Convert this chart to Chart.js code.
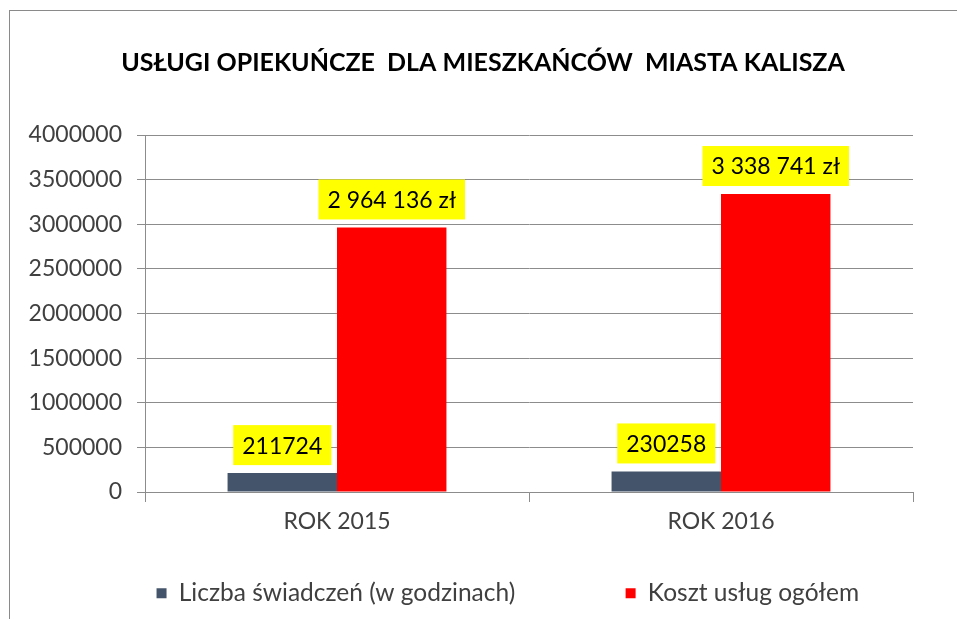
<!DOCTYPE html>
<html lang="pl">
<head>
<meta charset="utf-8">
<title>Usługi opiekuńcze dla mieszkańców miasta Kalisza</title>
<script src="https://cdn.jsdelivr.net/npm/chart.js@4.4.1/dist/chart.umd.min.js"></script>
<style>
  html, body { margin: 0; padding: 0; background: #fff; overflow: hidden; }
  #frame { position: absolute; left: 9px; top: 10px; width: 2000px; height: 2000px; border: 1px solid #8a8a8a; }
  #wrap { position: absolute; left: 0; top: 0; width: 957px; height: 619px; }
</style>
</head>
<body>
<div id="frame"></div>
<div id="wrap"><canvas id="chart"></canvas></div>
<script>
// Data
const years = ['ROK 2015', 'ROK 2016'];
const serviceHours = [211724, 230258];
const serviceCost = [2964136, 3338741];
const seriesNames = ['Liczba świadczeń (w godzinach)', 'Koszt usług ogółem'];
const seriesColors = ['#44546A', '#FF0000'];
const yTicks = [0, 500000, 1000000, 1500000, 2000000, 2500000, 3000000, 3500000, 4000000];

const FONT = 'Lato, "Open Sans", sans-serif';

// 2964136 -> "2 964 136 zł"
function formatZl(v) {
    return String(v).replace(/\B(?=(\d{3})+(?!\d))/g, ' ') + ' zł';
}

const labelFormats = [v => String(v), formatZl];

// Yellow value boxes above the bars
const valueLabels = {
    id: 'valueLabels',
    afterDatasetsDraw(chart) {
        const ctx = chart.ctx;
        ctx.save();
        ctx.font = '23px ' + FONT;
        ctx.textAlign = 'center';
        ctx.textBaseline = 'middle';
        chart.data.datasets.forEach((ds, i) => {
            chart.getDatasetMeta(i).data.forEach((bar, j) => {
                const text = labelFormats[i](ds.data[j]);
                const w = ctx.measureText(text).width + 18;
                const h = 40;
                const bottom = bar.y - 8;
                ctx.fillStyle = '#FFFF00';
                ctx.fillRect(bar.x - w / 2, bottom - h, w, h);
                ctx.fillStyle = '#000000';
                ctx.fillText(text, bar.x, bottom - h / 2 + 1);
            });
        });
        ctx.restore();
    }
};

// extra room after each legend entry (gap between items, space at the right end)
const legendGap = [' '.repeat(16), ' '.repeat(14)];

new Chart(document.getElementById('chart'), {
    type: 'bar',
    data: {
        labels: years,
        datasets: [
            { label: seriesNames[0], data: serviceHours, backgroundColor: seriesColors[0] },
            { label: seriesNames[1], data: serviceCost, backgroundColor: seriesColors[1] }
        ]
    },
    options: {
        responsive: true,
        maintainAspectRatio: false,
        animation: false,
        categoryPercentage: 0.57,
        barPercentage: 1,
        layout: { padding: { left: 9, right: 0, top: 0, bottom: 3.5 } },
        plugins: {
            title: {
                display: true,
                text: 'USŁUGI OPIEKUŃCZE  DLA MIESZKAŃCÓW  MIASTA KALISZA',
                color: '#000000',
                font: { family: FONT, size: 25, weight: 'bold', lineHeight: 1.2 },
                padding: { top: 48, bottom: 57 }
            },
            legend: {
                position: 'bottom',
                align: 'end',
                labels: {
                    color: '#404040',
                    font: { family: FONT, size: 24.5 },
                    boxWidth: 10,
                    boxHeight: 10,
                    padding: 10,
                    generateLabels(chart) {
                        return Chart.defaults.plugins.legend.labels.generateLabels(chart).map((item, i) => {
                            item.text = item.text + legendGap[i];
                            return item;
                        });
                    }
                }
            },
            tooltip: { enabled: false }
        },
        scales: {
            x: {
                grid: { offset: true, drawOnChartArea: false, tickLength: 10, color: '#8c8c8c' },
                border: { color: '#8c8c8c' },
                ticks: { color: '#404040', font: { family: FONT, size: 23 }, padding: 6 },
                afterFit: s => { s.height = 79; }
            },
            y: {
                min: 0,
                max: 4000000,
                grid: { color: '#8c8c8c', tickLength: 8 },
                border: { color: '#8c8c8c' },
                afterBuildTicks: s => { s.ticks = yTicks.map(v => ({ value: v })); },
                ticks: { color: '#404040', font: { family: FONT, size: 23 }, padding: 15, callback: v => String(v) },
                afterFit: s => { s.width = 136; }
            },
            spare: {
                position: 'right',
                display: true,
                grid: { display: false },
                border: { display: false },
                ticks: { display: false },
                afterFit: s => { s.width = 44; }
            }
        }
    },
    plugins: [valueLabels]
});
</script>
</body>
</html>
